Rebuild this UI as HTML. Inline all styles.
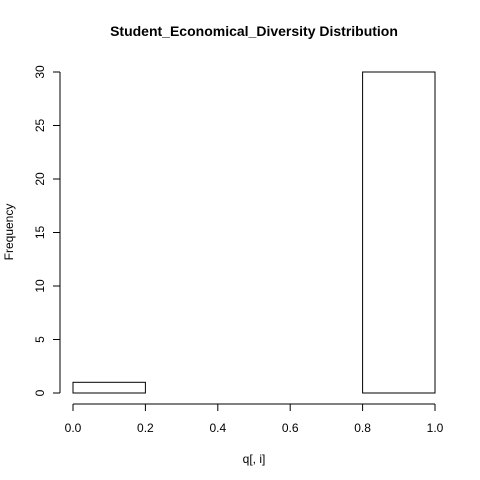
<!DOCTYPE html>
<html><head><style>body{margin:0;background:#fff}svg{display:block}text{font-family:"Liberation Sans",Arial,sans-serif;font-size:12px;fill:#000}</style></head>
<body>
<svg id="c" width="480" height="480">
<text x="254" y="36" text-anchor="middle" style="font-weight:bold;font-size:14px">Student_Economical_Diversity Distribution</text>
<text x="254" y="463" text-anchor="middle">q[, i]</text>
<text transform="translate(13,232) rotate(-90)" text-anchor="middle">Frequency</text>
<g id="g"></g>
</svg>
<script>
const binEdges=[0,0.2,0.4,0.6,0.8,1.0];
const counts=[1,0,0,0,30];
const xTicks=[0,0.2,0.4,0.6,0.8,1.0];
const xTickLabels=["0.0","0.2","0.4","0.6","0.8","1.0"];
const yTicks=[0,5,10,15,20,25,30];
const X=v=>73+v*362, Y=v=>393-v*10.7;
const g=document.getElementById('g'),NS='http://www.w3.org/2000/svg';
function el(t,a){const e=document.createElementNS(NS,t);for(const k in a)e.setAttribute(k,a[k]);g.appendChild(e);return e;}
for(let i=0;i<counts.length;i++){
 const r=el('rect',{x:X(binEdges[i]),y:Y(counts[i]),width:X(binEdges[i+1])-X(binEdges[i]),height:Y(0)-Y(counts[i]),fill:'none',stroke:'#000'});
 
 
}
const xa=el('line',{x1:X(0),x2:X(1),y1:404,y2:404,stroke:'#000'});


xTicks.forEach((v,i)=>{el('line',{x1:X(v),x2:X(v),y1:404,y2:411,stroke:'#000'});
 const t=el('text',{x:X(v),y:432,'text-anchor':'middle'});t.textContent=xTickLabels[i];
 
 });
const ya=el('line',{x1:60,x2:60,y1:Y(0),y2:Y(30),stroke:'#000'});


yTicks.forEach(v=>{el('line',{x1:53,x2:60,y1:Y(v),y2:Y(v),stroke:'#000'});
 const t=el('text',{transform:`translate(44,${Y(v)}) rotate(-90)`,'text-anchor':'middle'});t.textContent=v;
 
 });
</script>
</body></html>
